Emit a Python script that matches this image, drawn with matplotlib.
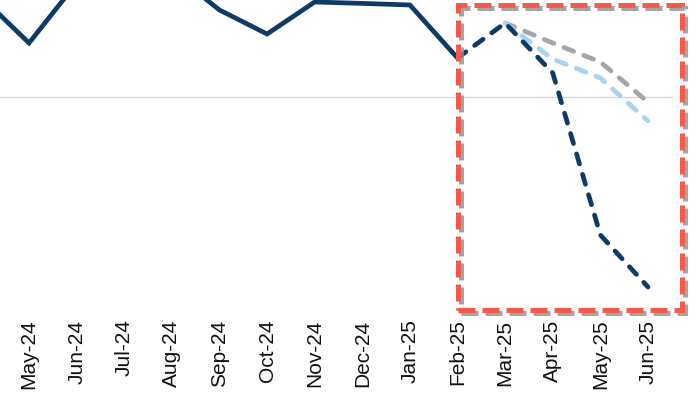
import numpy as np
import matplotlib
matplotlib.use('Agg')
import matplotlib.pyplot as plt
from matplotlib.patches import Rectangle

plt.rcParams['font.family'] = ['Liberation Sans', 'DejaVu Sans']

# months (Apr-24 sits just off the left edge of the crop)
months = ['Apr-24', 'May-24', 'Jun-24', 'Jul-24', 'Aug-24', 'Sep-24', 'Oct-24',
          'Nov-24', 'Dec-24', 'Jan-25', 'Feb-25', 'Mar-25', 'Apr-25', 'May-25', 'Jun-25']

# actuals up to Feb-25
actual = [5.0, 2.7, 5.7, 6.1, 6.25, 4.35, 3.15, 4.75, 4.68, 4.6, 1.95]

# scenario paths
fc_months = ['Feb-25', 'Mar-25', 'Apr-25', 'May-25', 'Jun-25']
scen_dark = [1.95, 3.7, 1.2, -6.9, -9.5]
sc_months = ['Mar-25', 'Apr-25', 'May-25', 'Jun-25']
scen_light = [3.7, 1.9, 0.95, -1.2]
scen_grey = [3.7, 2.7, 1.75, -0.25]

navy = '#0d3b66'
light_blue = '#a8d3f2'
grey = '#a6a6a6'
red = '#f4594a'

W, H = 700, 394
fig = plt.figure(figsize=(7, 3.94), dpi=100)
ax = fig.add_axes([0, 1 - 307 / H, 673 / W, 307 / H])

x_all = np.arange(len(months))
idx = {m: i for i, m in enumerate(months)}

ax.axhline(0, color='#d9d9d9', lw=1, zorder=1)

lw = 3.4
dash = (0, (2.2, 2.3))
ax.plot(x_all[:len(actual)], actual, color=navy, lw=lw, solid_joinstyle='miter', zorder=4)
ax.plot([idx[m] for m in sc_months], scen_grey, color=grey, lw=lw, ls=dash,
        dash_capstyle='round', zorder=2)
ax.plot([idx[m] for m in sc_months], scen_light, color=light_blue, lw=lw, ls=dash,
        dash_capstyle='round', zorder=3)
ax.plot([idx[m] for m in fc_months], scen_dark, color=navy, lw=lw, ls=dash,
        dash_capstyle='round', zorder=4)

ax.set_xlim(idx['May-24'] - 29 / 47.6, idx['Jun-25'] + 25 / 47.6)
ax.set_ylim((97 - 307) / 20, 97 / 20)
ax.set_xticks(x_all[1:])
ax.set_xticklabels(months[1:], rotation=90, fontsize=15, color='#111111')
ax.tick_params(axis='x', length=0, pad=9)
ax.set_yticks([])
for s in ax.spines.values():
    s.set_visible(False)

# highlight box around the scenarios, with a soft drop shadow
bx0, bx1, by0, by1 = 458 / W, 682 / W, 1 - 310 / H, 1 - 5 / H
for dx, dy, col, z in [(3 / W, -3 / H, '#8f8f8f', 5), (0, 0, red, 6)]:
    fig.add_artist(Rectangle((bx0 + dx, by0 + dy), bx1 - bx0, by1 - by0,
                             transform=fig.transFigure, fill=False, edgecolor=col,
                             lw=3.6, ls=(0, (3.4, 1.4)), zorder=z,
                             alpha=0.8 if col != red else 1))

fig.savefig('out.png', dpi=100)
